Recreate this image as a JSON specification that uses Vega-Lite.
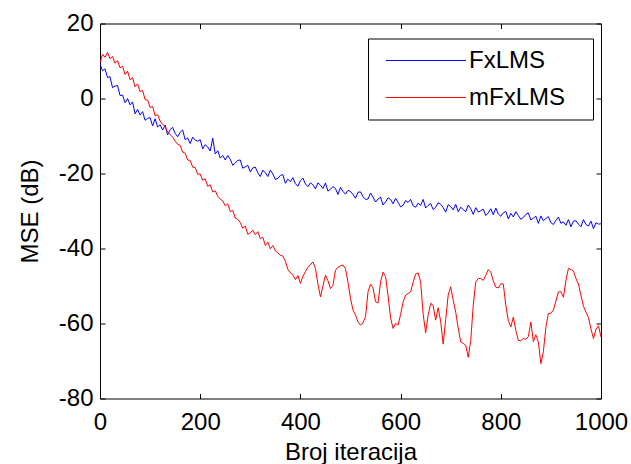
{
  "$schema": "https://vega.github.io/schema/vega-lite/v6.json",
  "width": 501,
  "height": 375,
  "autosize": {"type": "none"},
  "padding": {"left": 100, "top": 23.5, "right": 30, "bottom": 65.5},
  "background": "white",
  "config": {
    "view": {"stroke": "black", "strokeWidth": 1},
    "font": "Liberation Sans",
    "axis": {
      "domain": false,
      "grid": false,
      "ticks": true,
      "tickSize": 5,
      "offset": -5,
      "tickColor": "black",
      "tickWidth": 1,
      "tickOpacity": 1,
      "zindex": 1,
      "labelFont": "Liberation Sans",
      "labelFontSize": 24,
      "labelColor": "black",
      "labelFlush": false,
      "labelOverlap": false,
      "labelExpr": "'' + datum.value",
      "titleFont": "Liberation Sans",
      "titleFontSize": 24,
      "titleFontWeight": "normal",
      "titleColor": "black"
    }
  },
  "data": {
    "values": [
      {"i":0,"FxLMS":9.2,"mFxLMS":9.5},{"i":5,"FxLMS":7.4,"mFxLMS":11.8},{"i":10,"FxLMS":7.9,"mFxLMS":11.0},{"i":15,"FxLMS":5.6,"mFxLMS":12.3},{"i":20,"FxLMS":5.8,"mFxLMS":10.6},
      {"i":25,"FxLMS":2.9,"mFxLMS":11.2},{"i":30,"FxLMS":3.3,"mFxLMS":9.4},{"i":35,"FxLMS":3.5,"mFxLMS":10.1},{"i":40,"FxLMS":0.8,"mFxLMS":8.2},{"i":45,"FxLMS":0.9,"mFxLMS":8.6},
      {"i":50,"FxLMS":-1.1,"mFxLMS":6.4},{"i":55,"FxLMS":0.0,"mFxLMS":7.3},{"i":60,"FxLMS":-1.7,"mFxLMS":5.0},{"i":65,"FxLMS":-0.9,"mFxLMS":5.6},{"i":70,"FxLMS":-4.1,"mFxLMS":3.1},
      {"i":75,"FxLMS":-2.9,"mFxLMS":3.9},{"i":80,"FxLMS":-4.4,"mFxLMS":1.8},{"i":85,"FxLMS":-3.5,"mFxLMS":2.2},{"i":90,"FxLMS":-5.8,"mFxLMS":-0.3},{"i":95,"FxLMS":-5.3,"mFxLMS":-0.4},
      {"i":100,"FxLMS":-5.1,"mFxLMS":-2.4},{"i":105,"FxLMS":-7.3,"mFxLMS":-2.1},{"i":110,"FxLMS":-5.4,"mFxLMS":-4.6},{"i":115,"FxLMS":-7.6,"mFxLMS":-4.3},{"i":120,"FxLMS":-7.0,"mFxLMS":-6.0},
      {"i":125,"FxLMS":-8.4,"mFxLMS":-6.9},{"i":130,"FxLMS":-7.1,"mFxLMS":-7.4},{"i":135,"FxLMS":-9.7,"mFxLMS":-8.9},{"i":140,"FxLMS":-8.3,"mFxLMS":-9.6},{"i":145,"FxLMS":-7.7,"mFxLMS":-10.3},
      {"i":150,"FxLMS":-9.3,"mFxLMS":-11.4},{"i":155,"FxLMS":-10.2,"mFxLMS":-12.2},{"i":160,"FxLMS":-9.0,"mFxLMS":-12.5},{"i":165,"FxLMS":-8.4,"mFxLMS":-14.3},{"i":170,"FxLMS":-11.0,"mFxLMS":-14.6},
      {"i":175,"FxLMS":-10.5,"mFxLMS":-16.4},{"i":180,"FxLMS":-12.0,"mFxLMS":-16.5},{"i":185,"FxLMS":-10.3,"mFxLMS":-18.3},{"i":190,"FxLMS":-11.1,"mFxLMS":-18.4},{"i":195,"FxLMS":-11.4,"mFxLMS":-20.2},
      {"i":200,"FxLMS":-11.0,"mFxLMS":-20.1},{"i":205,"FxLMS":-13.4,"mFxLMS":-21.8},{"i":210,"FxLMS":-12.3,"mFxLMS":-21.4},{"i":215,"FxLMS":-12.9,"mFxLMS":-23.4},{"i":220,"FxLMS":-14.0,"mFxLMS":-23.0},
      {"i":225,"FxLMS":-10.6,"mFxLMS":-24.9},{"i":230,"FxLMS":-14.8,"mFxLMS":-24.6},{"i":235,"FxLMS":-13.9,"mFxLMS":-26.1},{"i":240,"FxLMS":-15.9,"mFxLMS":-26.8},{"i":245,"FxLMS":-15.2,"mFxLMS":-27.3},
      {"i":250,"FxLMS":-16.4,"mFxLMS":-28.6},{"i":255,"FxLMS":-15.2,"mFxLMS":-28.1},{"i":260,"FxLMS":-16.2,"mFxLMS":-30.2},{"i":265,"FxLMS":-17.8,"mFxLMS":-29.8},{"i":270,"FxLMS":-17.2,"mFxLMS":-31.9},
      {"i":275,"FxLMS":-16.5,"mFxLMS":-32.2},{"i":280,"FxLMS":-16.4,"mFxLMS":-33.1},{"i":285,"FxLMS":-18.6,"mFxLMS":-34.6},{"i":290,"FxLMS":-18.2,"mFxLMS":-34.0},{"i":295,"FxLMS":-17.8,"mFxLMS":-36.2},
      {"i":300,"FxLMS":-19.6,"mFxLMS":-35.8},{"i":305,"FxLMS":-18.5,"mFxLMS":-35.1},{"i":310,"FxLMS":-18.3,"mFxLMS":-36.3},{"i":315,"FxLMS":-19.8,"mFxLMS":-35.5},{"i":320,"FxLMS":-20.8,"mFxLMS":-37.4},
      {"i":325,"FxLMS":-19.1,"mFxLMS":-37.0},{"i":330,"FxLMS":-19.8,"mFxLMS":-39.2},{"i":335,"FxLMS":-20.8,"mFxLMS":-38.3},{"i":340,"FxLMS":-19.1,"mFxLMS":-40.1},{"i":345,"FxLMS":-20.1,"mFxLMS":-39.2},
      {"i":350,"FxLMS":-21.6,"mFxLMS":-40.6},{"i":355,"FxLMS":-21.3,"mFxLMS":-41.2},{"i":360,"FxLMS":-20.5,"mFxLMS":-41.8},{"i":365,"FxLMS":-20.3,"mFxLMS":-42.0},{"i":370,"FxLMS":-22.6,"mFxLMS":-43.4},
      {"i":375,"FxLMS":-21.5,"mFxLMS":-45.6},{"i":380,"FxLMS":-22.2,"mFxLMS":-46.5},{"i":385,"FxLMS":-21.1,"mFxLMS":-47.0},{"i":390,"FxLMS":-22.7,"mFxLMS":-48.3},{"i":395,"FxLMS":-23.4,"mFxLMS":-47.2},
      {"i":400,"FxLMS":-21.9,"mFxLMS":-49.3},{"i":405,"FxLMS":-21.2,"mFxLMS":-47.4},{"i":410,"FxLMS":-22.8,"mFxLMS":-46.2},{"i":415,"FxLMS":-23.5,"mFxLMS":-45.0},{"i":420,"FxLMS":-22.5,"mFxLMS":-44.3},
      {"i":425,"FxLMS":-23.0,"mFxLMS":-43.6},{"i":430,"FxLMS":-24.1,"mFxLMS":-45.3},{"i":435,"FxLMS":-22.5,"mFxLMS":-49.5},{"i":440,"FxLMS":-23.1,"mFxLMS":-52.9},{"i":445,"FxLMS":-24.0,"mFxLMS":-50.0},
      {"i":450,"FxLMS":-22.5,"mFxLMS":-47.1},{"i":455,"FxLMS":-24.7,"mFxLMS":-48.6},{"i":460,"FxLMS":-24.2,"mFxLMS":-50.7},{"i":465,"FxLMS":-23.5,"mFxLMS":-49.8},{"i":470,"FxLMS":-24.0,"mFxLMS":-45.8},
      {"i":475,"FxLMS":-25.6,"mFxLMS":-45.0},{"i":480,"FxLMS":-23.7,"mFxLMS":-44.6},{"i":485,"FxLMS":-24.8,"mFxLMS":-44.4},{"i":490,"FxLMS":-25.5,"mFxLMS":-45.4},{"i":495,"FxLMS":-24.5,"mFxLMS":-49.0},
      {"i":500,"FxLMS":-24.8,"mFxLMS":-53.3},{"i":505,"FxLMS":-25.6,"mFxLMS":-56.4},{"i":510,"FxLMS":-26.6,"mFxLMS":-57.8},{"i":515,"FxLMS":-25.0,"mFxLMS":-59.6},{"i":520,"FxLMS":-24.9,"mFxLMS":-60.4},
      {"i":525,"FxLMS":-26.2,"mFxLMS":-59.8},{"i":530,"FxLMS":-26.9,"mFxLMS":-58.2},{"i":535,"FxLMS":-26.8,"mFxLMS":-51.5},{"i":540,"FxLMS":-25.2,"mFxLMS":-49.5},{"i":545,"FxLMS":-26.3,"mFxLMS":-50.5},
      {"i":550,"FxLMS":-27.6,"mFxLMS":-54.2},{"i":555,"FxLMS":-26.8,"mFxLMS":-54.5},{"i":560,"FxLMS":-26.3,"mFxLMS":-48.9},{"i":565,"FxLMS":-28.4,"mFxLMS":-46.3},{"i":570,"FxLMS":-27.6,"mFxLMS":-47.5},
      {"i":575,"FxLMS":-26.5,"mFxLMS":-52.6},{"i":580,"FxLMS":-26.9,"mFxLMS":-58.5},{"i":585,"FxLMS":-28.1,"mFxLMS":-61.3},{"i":590,"FxLMS":-26.6,"mFxLMS":-60.0},{"i":595,"FxLMS":-27.7,"mFxLMS":-60.4},
      {"i":600,"FxLMS":-28.9,"mFxLMS":-57.6},{"i":605,"FxLMS":-28.5,"mFxLMS":-54.3},{"i":610,"FxLMS":-27.2,"mFxLMS":-52.4},{"i":615,"FxLMS":-27.7,"mFxLMS":-52.0},{"i":620,"FxLMS":-26.9,"mFxLMS":-51.6},
      {"i":625,"FxLMS":-28.6,"mFxLMS":-49.0},{"i":630,"FxLMS":-29.0,"mFxLMS":-46.8},{"i":635,"FxLMS":-27.9,"mFxLMS":-46.5},{"i":640,"FxLMS":-28.5,"mFxLMS":-48.9},{"i":645,"FxLMS":-26.9,"mFxLMS":-57.5},
      {"i":650,"FxLMS":-29.2,"mFxLMS":-62.5},{"i":655,"FxLMS":-28.5,"mFxLMS":-57.8},{"i":660,"FxLMS":-28.0,"mFxLMS":-54.6},{"i":665,"FxLMS":-29.6,"mFxLMS":-55.2},{"i":670,"FxLMS":-29.0,"mFxLMS":-59.1},
      {"i":675,"FxLMS":-27.8,"mFxLMS":-55.8},{"i":680,"FxLMS":-28.2,"mFxLMS":-59.5},{"i":685,"FxLMS":-29.1,"mFxLMS":-65.5},{"i":690,"FxLMS":-30.3,"mFxLMS":-59.0},{"i":695,"FxLMS":-28.3,"mFxLMS":-52.4},
      {"i":700,"FxLMS":-28.8,"mFxLMS":-50.2},{"i":705,"FxLMS":-29.7,"mFxLMS":-53.8},{"i":710,"FxLMS":-28.2,"mFxLMS":-57.0},{"i":715,"FxLMS":-30.2,"mFxLMS":-61.2},{"i":720,"FxLMS":-29.0,"mFxLMS":-64.9},
      {"i":725,"FxLMS":-29.6,"mFxLMS":-65.3},{"i":730,"FxLMS":-30.2,"mFxLMS":-65.8},{"i":735,"FxLMS":-28.4,"mFxLMS":-69.0},{"i":740,"FxLMS":-29.4,"mFxLMS":-64.5},{"i":745,"FxLMS":-30.9,"mFxLMS":-55.2},
      {"i":750,"FxLMS":-29.1,"mFxLMS":-48.9},{"i":755,"FxLMS":-30.3,"mFxLMS":-48.0},{"i":760,"FxLMS":-29.9,"mFxLMS":-48.0},{"i":765,"FxLMS":-29.5,"mFxLMS":-48.5},{"i":770,"FxLMS":-31.2,"mFxLMS":-47.2},
      {"i":775,"FxLMS":-30.5,"mFxLMS":-45.6},{"i":780,"FxLMS":-29.4,"mFxLMS":-46.3},{"i":785,"FxLMS":-31.0,"mFxLMS":-48.6},{"i":790,"FxLMS":-29.2,"mFxLMS":-50.3},{"i":795,"FxLMS":-30.8,"mFxLMS":-50.5},
      {"i":800,"FxLMS":-31.4,"mFxLMS":-49.4},{"i":805,"FxLMS":-30.5,"mFxLMS":-49.5},{"i":810,"FxLMS":-30.1,"mFxLMS":-55.1},{"i":815,"FxLMS":-32.1,"mFxLMS":-59.2},{"i":820,"FxLMS":-30.6,"mFxLMS":-60.9},
      {"i":825,"FxLMS":-31.6,"mFxLMS":-58.3},{"i":830,"FxLMS":-30.2,"mFxLMS":-61.8},{"i":835,"FxLMS":-31.2,"mFxLMS":-64.5},{"i":840,"FxLMS":-32.2,"mFxLMS":-64.6},{"i":845,"FxLMS":-31.7,"mFxLMS":-64.0},
      {"i":850,"FxLMS":-30.9,"mFxLMS":-64.2},{"i":855,"FxLMS":-30.5,"mFxLMS":-63.5},{"i":860,"FxLMS":-32.4,"mFxLMS":-59.6},{"i":865,"FxLMS":-31.9,"mFxLMS":-64.8},{"i":870,"FxLMS":-31.4,"mFxLMS":-63.0},
      {"i":875,"FxLMS":-33.3,"mFxLMS":-65.0},{"i":880,"FxLMS":-31.3,"mFxLMS":-70.7},{"i":885,"FxLMS":-32.6,"mFxLMS":-67.5},{"i":890,"FxLMS":-32.0,"mFxLMS":-61.0},{"i":895,"FxLMS":-31.5,"mFxLMS":-57.3},
      {"i":900,"FxLMS":-33.1,"mFxLMS":-57.3},{"i":905,"FxLMS":-33.6,"mFxLMS":-56.4},{"i":910,"FxLMS":-32.5,"mFxLMS":-54.0},{"i":915,"FxLMS":-31.6,"mFxLMS":-51.6},{"i":920,"FxLMS":-33.3,"mFxLMS":-51.5},
      {"i":925,"FxLMS":-32.9,"mFxLMS":-53.0},{"i":930,"FxLMS":-33.8,"mFxLMS":-48.5},{"i":935,"FxLMS":-32.3,"mFxLMS":-45.3},{"i":940,"FxLMS":-34.2,"mFxLMS":-45.6},{"i":945,"FxLMS":-32.7,"mFxLMS":-46.0},
      {"i":950,"FxLMS":-32.6,"mFxLMS":-48.0},{"i":955,"FxLMS":-33.5,"mFxLMS":-49.5},{"i":960,"FxLMS":-34.2,"mFxLMS":-52.5},{"i":965,"FxLMS":-32.3,"mFxLMS":-55.4},{"i":970,"FxLMS":-33.6,"mFxLMS":-57.0},
      {"i":975,"FxLMS":-34.0,"mFxLMS":-58.4},{"i":980,"FxLMS":-32.7,"mFxLMS":-61.5},{"i":985,"FxLMS":-34.7,"mFxLMS":-64.0},{"i":990,"FxLMS":-33.1,"mFxLMS":-61.5},{"i":995,"FxLMS":-33.5,"mFxLMS":-60.6},
      {"i":1000,"FxLMS":-33.4,"mFxLMS":-63.6}
    ]
  },
  "transform": [{"fold": ["FxLMS", "mFxLMS"], "as": ["series", "mse"]}],
  "layer": [
    {
      "mark": {"type": "line", "strokeWidth": 1, "clip": true},
      "encoding": {
        "x": {
          "field": "i", "type": "quantitative",
          "scale": {"domain": [0, 1000], "nice": false, "zero": false},
          "axis": {"orient": "bottom", "values": [0, 200, 400, 600, 800, 1000], "title": "Broj iteracija", "labelPadding": 12, "titleBaseline": "alphabetic", "titleY": 66}
        },
        "y": {
          "field": "mse", "type": "quantitative",
          "scale": {"domain": [-80, 20], "nice": false, "zero": false},
          "axis": {"orient": "left", "values": [-80, -60, -40, -20, 0, 20], "title": "MSE (dB)", "labelPadding": 7, "titleBaseline": "alphabetic", "titleX": -68, "titleY": 187.5, "titleAngle": 270}
        },
        "color": {
          "field": "series", "type": "nominal",
          "scale": {"domain": ["FxLMS", "mFxLMS"], "range": ["#0000ff", "#ff0000"]},
          "legend": {
            "title": null,
            "orient": "none",
            "legendX": 268,
            "legendY": 15,
            "fillColor": "white",
            "strokeColor": "black",
            "padding": 10,
            "symbolType": "M-4,0H4",
            "symbolSize": 400,
            "symbolStrokeWidth": 1,
            "symbolOffset": 36,
            "labelOffset": 31,
            "labelFont": "Liberation Sans",
            "labelFontSize": 24,
            "labelColor": "black",
            "labelExpr": "datum.label + '\u2800'",
            "rowPadding": 13
          }
        }
      }
    },
    {
      "mark": {"type": "line", "strokeWidth": 1, "opacity": 0},
      "encoding": {
        "x": {
          "field": "i", "type": "quantitative",
          "axis": {"orient": "top", "values": [0, 200, 400, 600, 800, 1000], "labels": false, "title": null}
        },
        "y": {
          "field": "mse", "type": "quantitative",
          "axis": {"orient": "right", "values": [-80, -60, -40, -20, 0, 20], "labels": false, "title": null}
        },
        "detail": {"field": "series", "type": "nominal"}
      }
    }
  ],
  "resolve": {"axis": {"x": "independent", "y": "independent"}}
}
